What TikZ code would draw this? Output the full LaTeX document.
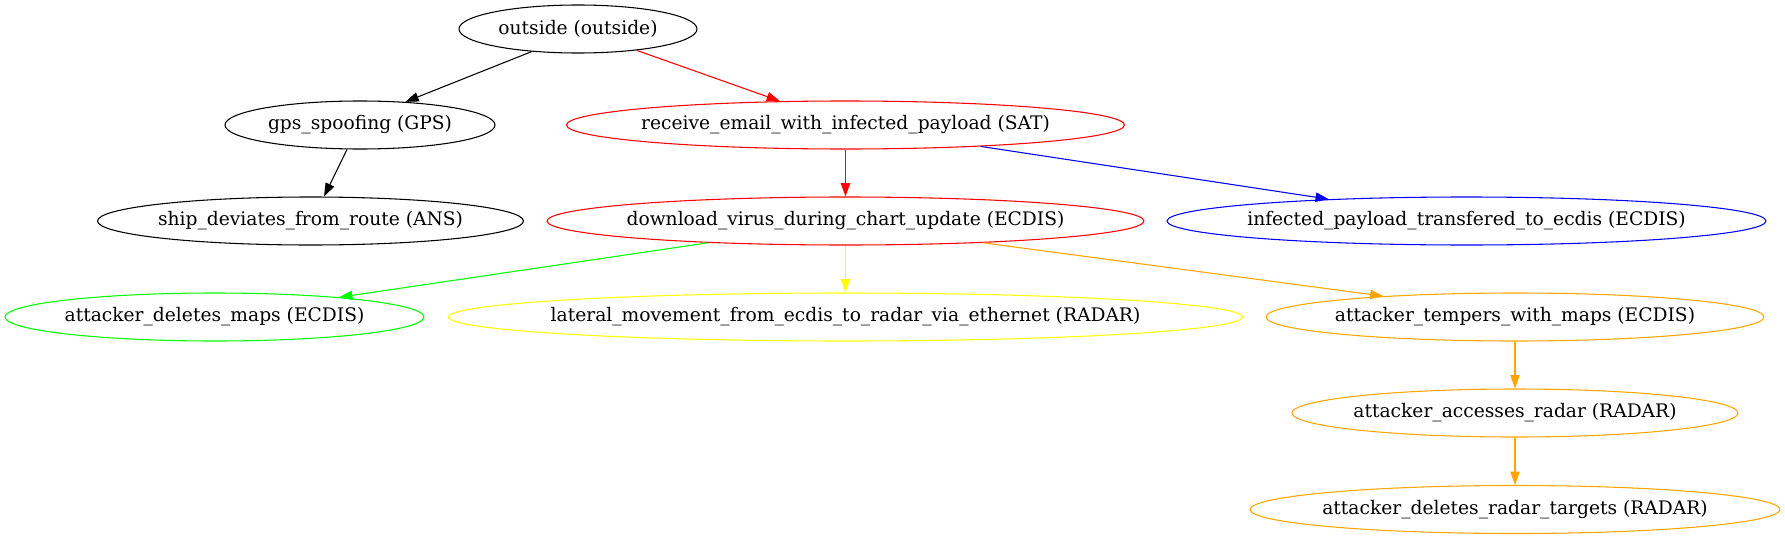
\documentclass[tikz,border=0pt]{standalone}
\usepackage{fontspec}
\setmainfont{DejaVu Serif}
\usetikzlibrary{shapes.geometric,arrows.meta}
\definecolor{gvred}{HTML}{FF0000}
\definecolor{gvblue}{HTML}{0000FF}
\definecolor{gvgreen}{HTML}{00FF00}
\definecolor{gvyellow}{HTML}{FFFF00}
\definecolor{gvorange}{HTML}{FFA500}
\begin{document}
\begin{tikzpicture}[x=0.75pt,y=-0.75pt,
  gvnode/.style={draw,ellipse,inner xsep=-250pt,inner ysep=0pt,minimum height=36pt,line width=0.8pt,
    font=\fontsize{14}{16}\selectfont,text=black},
  arr/.style={line width=0.8pt,-{Triangle[length=10pt,width=7pt]}}]
\useasboundingbox (0,0) rectangle (1785,539);
\node[gvnode,minimum width=178.5pt] (outside) at (578,29) {outside (outside)};
\node[gvnode,minimum width=202.5pt] (gps) at (360,125) {gps\_spoofing (GPS)};
\node[gvnode,draw=gvred,minimum width=418.5pt] (receive) at (845.5,125) {receive\_email\_with\_infected\_payload (SAT)};
\node[gvnode,minimum width=319.5pt] (ship) at (310.5,221) {ship\_deviates\_from\_route (ANS)};
\node[gvnode,draw=gvred,minimum width=447.75pt] (download) at (845.5,221) {download\_virus\_during\_chart\_update (ECDIS)};
\node[gvnode,draw=gvblue,minimum width=449.25pt] (infected) at (1466.5,221) {infected\_payload\_transfered\_to\_ecdis (ECDIS)};
\node[gvnode,draw=gvgreen,minimum width=314.25pt] (delmaps) at (214.5,317) {attacker\_deletes\_maps (ECDIS)};
\node[gvnode,draw=gvyellow,minimum width=595.5pt] (lateral) at (845.5,317) {lateral\_movement\_from\_ecdis\_to\_radar\_via\_ethernet (RADAR)};
\node[gvnode,draw=gvorange,minimum width=373.5pt] (tempers) at (1515,317) {attacker\_tempers\_with\_maps (ECDIS)};
\node[gvnode,draw=gvorange,minimum width=334.5pt] (accesses) at (1515,413) {attacker\_accesses\_radar (RADAR)};
\node[gvnode,draw=gvorange,minimum width=397.5pt] (delradar) at (1515,509.5) {attacker\_deletes\_radar\_targets (RADAR)};
\draw[arr,black] (outside.206) -- (gps.27);
\draw[arr,gvred] (outside.340) -- (receive.160);
\draw[arr,black] (gps.242) -- (ship.61);
\draw[arr,gvred] (receive.south) -- (download.north);
\draw[arr,gvblue] (receive.351) -- (infected.171);
\draw[arr,gvgreen] (download.189) -- (delmaps.9);
\draw[arr,gvyellow] (download.south) -- (lateral.north);
\draw[arr,gvorange] (download.351) -- (tempers.171);
\draw[arr,gvorange] (tempers.south) -- (accesses.north);
\draw[arr,gvorange] (accesses.south) -- (delradar.north);
\end{tikzpicture}
\end{document}
